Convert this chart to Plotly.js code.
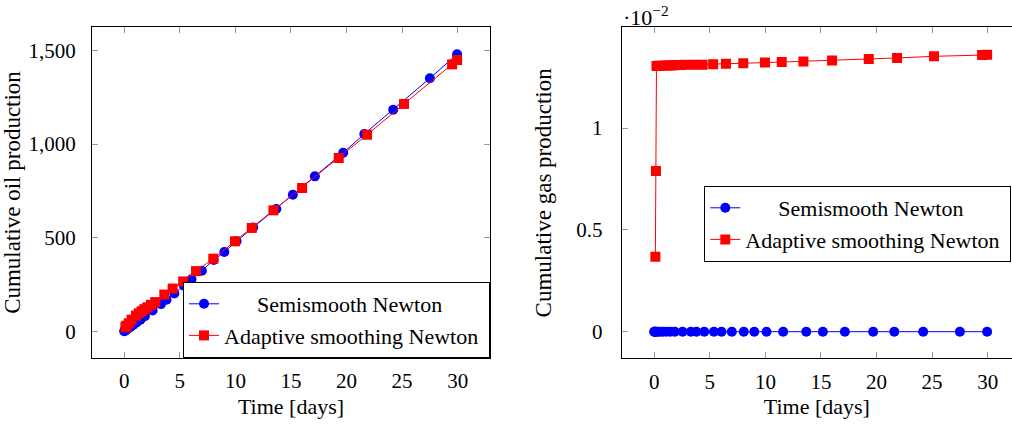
<!DOCTYPE html>
<html>
<head>
<meta charset="utf-8">
<script src="https://cdn.plot.ly/plotly-3.0.1.min.js"></script>
<style>html,body{margin:0;padding:0;background:#fff}#chart{width:1012px;height:428px}</style>
</head>
<body>
<div id="chart"></div>
<script>
// Semismooth Newton (blue circles)
const semiTime = [0, 0.02, 0.05, 0.1, 0.2, 0.35, 0.55, 0.8, 1.1, 1.45, 1.85, 2.55, 3.3, 3.8, 4.5, 5.37, 6.05, 6.98, 8.05, 9.0, 10.1, 11.6, 13.68, 15.17, 17.15, 19.7, 21.6, 24.2, 27.5, 29.95];
const semiOil  = [3, 4, 5, 7, 11, 17, 25, 36, 49, 64, 82, 113, 147, 170, 204, 245, 280, 325, 382, 425, 482, 556, 654, 730, 828, 954, 1054, 1183, 1351, 1479];
const semiGas  = [0, 0, 0, 0, 0, 0, 0, 0, 0, 0, 0, 0, 0, 0, 0, 0, 0, 0, 0, 0, 0, 0, 0, 0, 0, 0, 0, 0, 0, 0];

// Adaptive smoothing Newton (red squares)
const adaptTime = [0.1, 0.15, 0.2, 0.4, 0.66, 1.05, 1.3, 1.56, 1.8, 2.07, 2.4, 2.79, 3.6, 4.35, 5.3, 6.45, 8.01, 9.96, 11.47, 13.42, 16.0, 19.3, 21.85, 25.17, 29.5, 29.95];
const adaptOil  = [24, 27, 32, 45, 64, 86, 98, 109, 120, 130, 143, 158, 198, 230, 268, 323, 389, 482, 553, 647, 766, 926, 1050, 1214, 1425, 1448];
const adaptGas  = [0.00368, 0.00789, 0.01305, 0.01306, 0.01306, 0.01307, 0.01307, 0.01308, 0.01308, 0.01309, 0.01309, 0.01310, 0.01311, 0.01311, 0.01313, 0.01316, 0.01318, 0.01321, 0.01324, 0.01327, 0.01332, 0.01339, 0.01344, 0.01352, 0.01358, 0.01360];

// Tick labels
const xTickVals = [0, 5, 10, 15, 20, 25, 30];
const xTickText = ['0', '5', '10', '15', '20', '25', '30'];
const oilTickVals = [0, 500, 1000, 1500];
const oilTickText = ['0', '500', '1,000', '1,500'];
const gasTickVals = [0, 0.005, 0.01];
const gasTickText = ['0', '0.5', '1'];

const nameSemi = '\u00A0\u00A0\u00A0\u00A0\u00A0\u00A0Semismooth Newton';
const nameAdapt = 'Adaptive smoothing Newton\u00A0';

const FONT = 'Liberation Serif, Times New Roman, serif';
const W = 1012, H = 428;
const px = v => v / W;
const py = v => (H - v) / H;

const blueStyle = {mode: 'lines+markers', line: {color: '#0000ff', width: 1}, marker: {symbol: 'circle', size: 10, color: '#0000ff'}};
const redStyle = {mode: 'lines+markers', line: {color: '#ff0000', width: 1}, marker: {symbol: 'square', size: 10, color: '#ff0000'}};

const traces = [
  Object.assign({x: semiTime, y: semiOil, name: nameSemi, xaxis: 'x', yaxis: 'y', legend: 'legend'}, blueStyle),
  Object.assign({x: adaptTime, y: adaptOil, name: nameAdapt, xaxis: 'x', yaxis: 'y', legend: 'legend'}, redStyle),
  Object.assign({x: semiTime, y: semiGas, name: nameSemi, xaxis: 'x2', yaxis: 'y2', legend: 'legend2'}, blueStyle),
  Object.assign({x: adaptTime, y: adaptGas, name: nameAdapt, xaxis: 'x2', yaxis: 'y2', legend: 'legend2'}, redStyle)
];

const axBase = {
  showgrid: false, zeroline: false, showline: true, linecolor: '#000', linewidth: 1,
  ticks: 'inside', ticklen: 6, tickcolor: '#999', tickwidth: 1,
  tickfont: {family: FONT, size: 21, color: '#000'}, tickmode: 'array'
};

const layout = {
  width: W, height: H,
  margin: {l: 0, r: 0, t: 0, b: 0, autoexpand: false},
  paper_bgcolor: '#fff', plot_bgcolor: '#fff',
  font: {family: FONT, size: 21, color: '#000'},
  showlegend: true,
  xaxis: Object.assign({}, axBase, {
    domain: [px(92), px(490)], range: [-2.906, 32.91], anchor: 'y', mirror: 'ticks',
    tickvals: xTickVals, ticktext: xTickText, ticklabelstandoff: 4,
    title: {text: 'Time [days]', font: {family: FONT, size: 22}, standoff: 6}
  }),
  yaxis: Object.assign({}, axBase, {
    domain: [py(358), py(27)], range: [-140.2, 1624.2], anchor: 'x', mirror: 'ticks',
    tickvals: oilTickVals, ticktext: oilTickText, ticklabelstandoff: 11,
    title: {text: 'Cumulative oil production', font: {family: FONT, size: 23}, standoff: 4}
  }),
  xaxis2: Object.assign({}, axBase, {
    domain: [px(621.7), 1], range: [-2.93, 32.19], anchor: 'y2', mirror: 'ticks',
    tickvals: xTickVals, ticktext: xTickText, ticklabelstandoff: 4,
    title: {text: 'Time [days]', font: {family: FONT, size: 22}, standoff: 6}
  }),
  yaxis2: Object.assign({}, axBase, {
    domain: [py(358.3), py(27.3)], range: [-0.001306, 0.014944], anchor: 'x2', mirror: false,
    tickvals: gasTickVals, ticktext: gasTickText, ticklabelstandoff: 14,
    title: {text: 'Cumulative gas production', font: {family: FONT, size: 23}, standoff: 18}
  }),
  legend: {
    x: px(490), xanchor: 'right', y: py(358), yanchor: 'bottom',
    bgcolor: '#fff', bordercolor: '#000', borderwidth: 1,
    font: {family: FONT, size: 22, color: '#000'}, tracegroupgap: 0
  },
  legend2: {
    x: px(704.3), xanchor: 'left', y: py(186), yanchor: 'top',
    bgcolor: '#fff', bordercolor: '#000', borderwidth: 1,
    font: {family: FONT, size: 22, color: '#000'}, tracegroupgap: 0
  },
  annotations: [{
    xref: 'paper', yref: 'paper', x: px(621), y: 1, xanchor: 'left', yanchor: 'top', yshift: 0,
    text: '\u00B710<sup>\u22122</sup>', showarrow: false, font: {family: FONT, size: 22, color: '#000'}
  }]
};

Plotly.newPlot('chart', traces, layout, {displayModeBar: false, staticPlot: true});
</script>
</body>
</html>
